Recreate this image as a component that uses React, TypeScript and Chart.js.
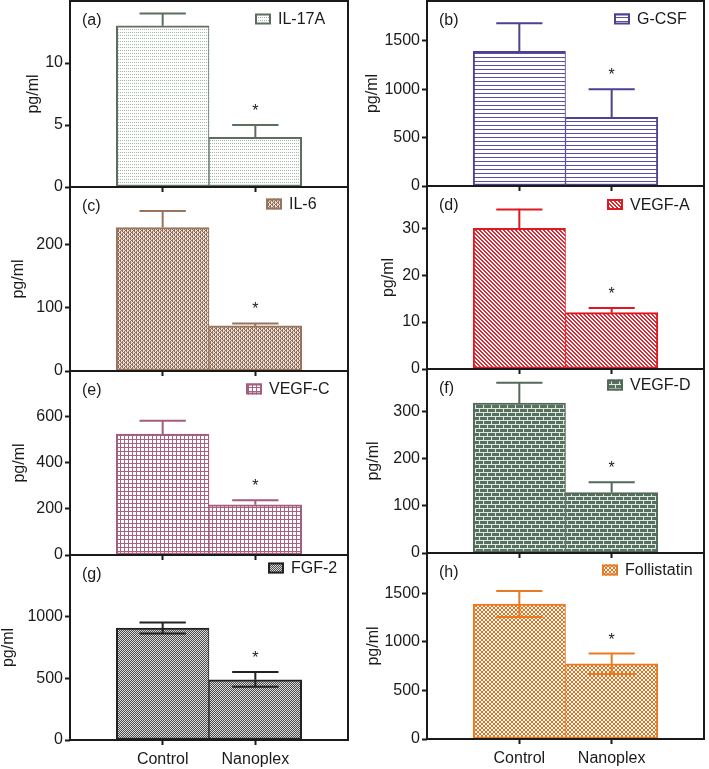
import React, { useEffect, useRef } from 'react';
import { Chart, registerables } from 'chart.js';

Chart.register(...registerables);

const FONT = '"Liberation Sans", Arial, Helvetica, sans-serif';
const INK = '#1a1a1a';

// ---------- data ----------
const categories = ['Control', 'Nanoplex'];
const panelTags = ['(a)', '(b)', '(c)', '(d)', '(e)', '(f)', '(g)', '(h)'];
const analytes = ['IL-17A', 'G-CSF', 'IL-6', 'VEGF-A', 'VEGF-C', 'VEGF-D', 'FGF-2', 'Follistatin'];
const yAxisTitle = 'pg/ml';
const significance = ['', '*'];

const il17aMean = [13, 4];
const il17aUpper = [14, 5];
const gcsfMean = [1390, 710];
const gcsfUpper = [1680, 1000];
const il6Mean = [226, 71];
const il6Upper = [252, 75];
const vegfAMean = [30, 12];
const vegfAUpper = [34, 13];
const vegfCMean = [522, 217];
const vegfCUpper = [580, 237];
const vegfDMean = [318, 128];
const vegfDUpper = [361, 150];
const fgf2Mean = [905, 487];
const fgf2Upper = [950, 550];
const fgf2Lower = [860, 430];
const follistatinMean = [1390, 775];
const follistatinUpper = [1525, 880];
const follistatinLower = [1255, 670];

const yMaxima = [15, 1910, 290, 39, 795, 390, 1495, 1915];
const ySteps = [5, 500, 100, 10, 200, 100, 500, 500];

const means = [il17aMean, gcsfMean, il6Mean, vegfAMean, vegfCMean, vegfDMean, fgf2Mean, follistatinMean];
const uppers = [il17aUpper, gcsfUpper, il6Upper, vegfAUpper, vegfCUpper, vegfDUpper, fgf2Upper, follistatinUpper];
const lowers: (number[] | null)[] = [null, null, null, null, null, null, fgf2Lower, follistatinLower];

// ---------- layout / style ----------
const panelLeft = [70, 427, 70, 427, 70, 427, 70, 427];
const panelRight = [348, 704, 348, 704, 348, 704, 348, 704];
const panelTop = [1, 1, 187, 186, 371, 369, 555, 553];
const panelBottom = [187, 186, 371, 369, 555, 553, 740, 739];
const titleOffset = [36, 54, 51, 38, 50, 53, 61, 53];
const legendX = [185, 187, 196, 180, 176, 180, 198, 175];
const legendY = [18, 18, 17, 18.5, 18, 16, 13, 17];

const outlines = ['#5b6f5f', '#4d4290', '#98745e', '#e01822', '#a45e7c', '#53695a', '#222222', '#e97a22'];

type Spec = { rows: string[]; colors: Record<string, string> };
const patternSpecs: Spec[] = [
  { rows: ['d.', '..', '..'], colors: { d: '#a3b3a6', '.': '#ffffff' } },
  { rows: ['L', '.', '.', '.'], colors: { L: '#5a4ea6', '.': '#ffffff' } },
  { rows: ['DLDL', 'DLLD', 'DLDL', 'LDDL'], colors: { D: '#8e6c57', L: '#eadfd6' } },
  { rows: ['RR..', '.RR.', '..RR', 'R..R'], colors: { R: '#e2252e', '.': '#ffffff' } },
  { rows: ['MMMM', 'M...', 'M...', 'M...'], colors: { M: '#a8627f', '.': '#ffffff' } },
  {
    rows: ['WGGGGGGG', 'WGGGGGGG', 'WGGGGGGG', 'WWWWWWWW', 'GGGGWGGG', 'GGGGWGGG', 'GGGGWGGG', 'WWWWWWWW'],
    colors: { G: '#56725e', W: '#e2e9e4' },
  },
  { rows: ['KW', 'WK'], colors: { K: '#4a4a4a', W: '#dcdcdc' } },
  { rows: ['OO..', 'OO..', '..OO', '..OO'], colors: { O: '#e8701a', '.': '#ffffff' } },
];

function makePattern(spec: Spec): CanvasPattern {
  const h = spec.rows.length;
  const w = spec.rows[0].length;
  const c = document.createElement('canvas');
  c.width = w;
  c.height = h;
  const g = c.getContext('2d')!;
  for (let y = 0; y < h; y++) {
    for (let x = 0; x < w; x++) {
      g.fillStyle = spec.colors[spec.rows[y][x]];
      g.fillRect(x, y, 1, 1);
    }
  }
  return g.createPattern(c, 'repeat')!;
}

Chart.defaults.font.family = FONT;
Chart.defaults.font.size = 16;
Chart.defaults.color = INK;

function Panel({ index }: { index: number }) {
  const ref = useRef<HTMLCanvasElement>(null);
  const col = index % 2;
  const isBottom = index >= 6;
  const cLeft = col === 0 ? 0 : 355;
  const cWidth = 354;
  const cTop = panelTop[index] - 20;
  const cBottom = isBottom ? 769 : panelBottom[index] + 30;
  const cHeight = cBottom - cTop;

  useEffect(() => {
    const canvas = ref.current!;
    const i = index;
    const outline = outlines[i];
    const pattern = makePattern(patternSpecs[i]);

    const overlay = {
      id: 'panelOverlay',
      afterDatasetsDraw(chart: any) {
        const { ctx, chartArea: a } = chart;
        const ys = chart.scales.y;
        const meta = chart.getDatasetMeta(0);
        ctx.save();
        // error bars
        ctx.strokeStyle = outline;
        ctx.lineWidth = 2;
        ctx.lineCap = 'butt';
        meta.data.forEach((bar: any, k: number) => {
          const half = bar.width / 4;
          const ends = [uppers[i][k]];
          const lo = lowers[i];
          if (lo) ends.push(lo[k]);
          ends.forEach((v) => {
            const yp = ys.getPixelForValue(v);
            ctx.beginPath();
            ctx.moveTo(bar.x, bar.y);
            ctx.lineTo(bar.x, yp);
            ctx.moveTo(bar.x - half, yp);
            ctx.lineTo(bar.x + half, yp);
            ctx.stroke();
          });
          if (significance[k]) {
            ctx.fillStyle = INK;
            ctx.font = `16px ${FONT}`;
            ctx.textAlign = 'center';
            ctx.textBaseline = 'alphabetic';
            ctx.fillText(significance[k], bar.x, ys.getPixelForValue(uppers[i][k]) - 9);
          }
        });
        // frame
        ctx.strokeStyle = INK;
        ctx.lineWidth = 2;
        ctx.strokeRect(a.left, a.top, a.right - a.left, a.bottom - a.top);
        // panel tag
        ctx.fillStyle = INK;
        ctx.font = `16px ${FONT}`;
        ctx.textAlign = 'left';
        ctx.textBaseline = 'middle';
        ctx.fillText(panelTags[i], a.left + 12, a.top + 20);
        // legend
        const sx = a.left + legendX[i];
        const sy = a.top + legendY[i];
        ctx.fillStyle = pattern;
        ctx.fillRect(sx, sy - 5.5, 16, 11);
        ctx.strokeStyle = outline;
        ctx.lineWidth = 2;
        ctx.strokeRect(sx + 1, sy - 4.5, 14, 9);
        ctx.fillStyle = INK;
        ctx.fillText(analytes[i], sx + 23, sy + 1);
        // y title
        ctx.save();
        ctx.translate(a.left - titleOffset[i], (a.top + a.bottom) / 2);
        ctx.rotate(-Math.PI / 2);
        ctx.textAlign = 'center';
        ctx.textBaseline = 'middle';
        ctx.fillText(yAxisTitle, 0, 0);
        ctx.restore();
        ctx.restore();
      },
    };

    const chart = new Chart(canvas, {
      type: 'bar',
      data: {
        datasets: [
          {
            data: means[i].map((v, k) => ({ x: k + 1, y: v })),
            backgroundColor: pattern,
            borderColor: outline,
            borderWidth: ((c: any) =>
              c.dataIndex === 0
                ? { top: 2, left: 2, right: 1, bottom: 2 }
                : { top: 2, left: 1, right: 2, bottom: 2 }) as any,
            borderSkipped: false,
            barPercentage: 1,
            categoryPercentage: 1,
          } as any,
        ],
      },
      options: {
        responsive: false,
        animation: false,
        devicePixelRatio: 1,
        layout: { padding: { top: 20, right: cLeft + cWidth - panelRight[i], left: 0, bottom: 0 } },
        plugins: { legend: { display: false }, tooltip: { enabled: false } },
        scales: {
          x: {
            type: 'linear',
            min: 0,
            max: 3,
            offset: false,
            afterBuildTicks: (s: any) => {
              s.ticks = categories.map((_, k) => ({ value: k + 1 }));
            },
            afterFit: (s: any) => {
              s.height = cBottom - panelBottom[i];
            },
            grid: {
              display: true,
              drawOnChartArea: false,
              drawTicks: true,
              tickLength: 5,
              tickColor: INK,
              tickWidth: 2,
              offset: false,
            },
            border: { display: false },
            ticks: {
              display: isBottom,
              padding: 5,
              color: INK,
              font: { size: 16, family: FONT },
              maxRotation: 0,
              autoSkip: false,
              callback: (v: any) => categories[Math.round(Number(v)) - 1] ?? '',
            },
          },
          y: {
            type: 'linear',
            min: 0,
            max: yMaxima[i],
            afterBuildTicks: (s: any) => {
              const arr: { value: number }[] = [];
              for (let v = 0; v < yMaxima[i] - 1e-9; v += ySteps[i]) arr.push({ value: v });
              s.ticks = arr;
            },
            afterFit: (s: any) => {
              s.width = panelLeft[i] - cLeft;
            },
            grid: {
              display: true,
              drawOnChartArea: false,
              drawTicks: true,
              tickLength: 5,
              tickColor: INK,
              tickWidth: 2,
            },
            border: { display: false },
            ticks: {
              stepSize: ySteps[i],
              padding: 2,
              color: INK,
              font: { size: 16, family: FONT },
              callback: (v: any) => String(v),
            },
          },
        },
      } as any,
      plugins: [overlay],
    });
    return () => chart.destroy();
  }, [index]);

  return (
    <canvas
      ref={ref}
      width={cWidth}
      height={cHeight}
      style={{ position: 'absolute', left: cLeft, top: cTop, width: cWidth, height: cHeight }}
    />
  );
}

export default function App() {
  return (
    <div
      style={{
        position: 'absolute',
        left: 0,
        top: 0,
        width: 709,
        height: 769,
        background: '#ffffff',
        overflow: 'hidden',
      }}
    >
      {panelTags.map((_, idx) => (
        <Panel key={idx} index={idx} />
      ))}
    </div>
  );
}
